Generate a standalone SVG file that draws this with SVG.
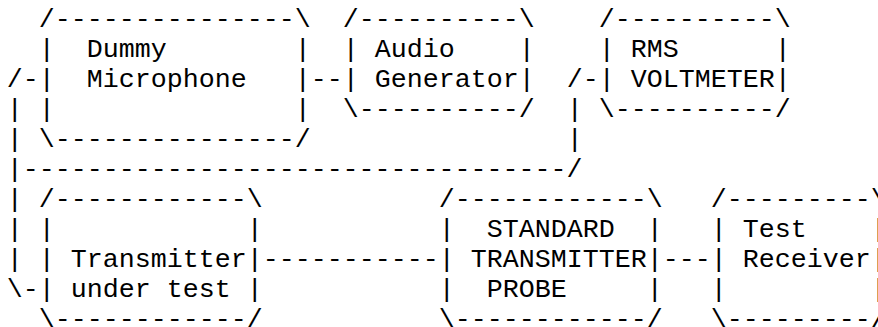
<svg xmlns="http://www.w3.org/2000/svg" width="878" height="327" viewBox="0 0 878 327">
  <style>
    text { font-family: "Liberation Mono", "Courier New", monospace; font-size: 26.67px; fill: #000; }
  </style>
  <rect width="878" height="327" fill="#fff"/>
  <!-- character grid: one column = 16px, one row = 30px (baseline of row 1 at y=0) -->
  <g transform="translate(6.7 26.7)">
    <g id="dummy-microphone">
      <text x="32" y="0">/---------------\</text>
      <text x="32" y="30">|</text><text x="80" y="30">Dummy</text><text x="288" y="30">|</text>
      <text x="32" y="60">|</text><text x="80" y="60">Microphone</text><text x="288" y="60">|</text>
      <text x="32" y="90">|</text><text x="288" y="90">|</text>
      <text x="32" y="120">\---------------/</text>
    </g>
    <g id="audio-generator">
      <text x="336" y="0">/----------\</text>
      <text x="336" y="30">|</text><text x="368" y="30">Audio</text><text x="512" y="30">|</text>
      <text x="336" y="60">|</text><text x="368" y="60">Generator</text><text x="512" y="60">|</text>
      <text x="336" y="90">\----------/</text>
    </g>
    <g id="rms-voltmeter">
      <text x="592" y="0">/----------\</text>
      <text x="592" y="30">|</text><text x="624" y="30">RMS</text><text x="768" y="30">|</text>
      <text x="592" y="60">|</text><text x="624" y="60">VOLTMETER</text><text x="768" y="60">|</text>
      <text x="592" y="90">\----------/</text>
    </g>
    <g id="transmitter-under-test">
      <text x="32" y="180">/------------\</text>
      <text x="32" y="210">|</text><text x="240" y="210">|</text>
      <text x="32" y="240">|</text><text x="64" y="240">Transmitter</text><text x="240" y="240">|</text>
      <text x="32" y="270">|</text><text x="64" y="270">under test</text><text x="240" y="270">|</text>
      <text x="32" y="300">\------------/</text>
    </g>
    <g id="standard-transmitter-probe">
      <text x="432" y="180">/------------\</text>
      <text x="432" y="210">|</text><text x="480" y="210">STANDARD</text><text x="640" y="210">|</text>
      <text x="432" y="240">|</text><text x="464" y="240">TRANSMITTER</text><text x="640" y="240">|</text>
      <text x="432" y="270">|</text><text x="480" y="270">PROBE</text><text x="640" y="270">|</text>
      <text x="432" y="300">\------------/</text>
    </g>
    <g id="test-receiver">
      <text x="704" y="180">/---------\</text>
      <text x="704" y="210">|</text><text x="736" y="210">Test</text><text x="864" y="210">|</text>
      <text x="704" y="240">|</text><text x="736" y="240">Receiver</text><text x="864" y="240">|</text>
      <text x="704" y="270">|</text><text x="864" y="270">|</text>
      <text x="704" y="300">\---------/</text>
    </g>
    <g id="connectors">
      <!-- microphone to audio generator -->
      <text x="304" y="60">--</text>
      <!-- loop from microphone down to transmitter under test -->
      <text x="0" y="60">/-</text>
      <text x="0" y="90">|</text>
      <text x="0" y="120">|</text>
      <text x="0" y="150">|----------------------------------/</text>
      <text x="0" y="180">|</text>
      <text x="0" y="210">|</text>
      <text x="0" y="240">|</text>
      <text x="0" y="270">\-</text>
      <!-- branch up to the RMS voltmeter -->
      <text x="560" y="60">/-</text>
      <text x="560" y="90">|</text>
      <text x="560" y="120">|</text>
      <!-- transmitter to probe to receiver -->
      <text x="256" y="240">-----------</text>
      <text x="656" y="240">---</text>
    </g>
  </g>
</svg>
